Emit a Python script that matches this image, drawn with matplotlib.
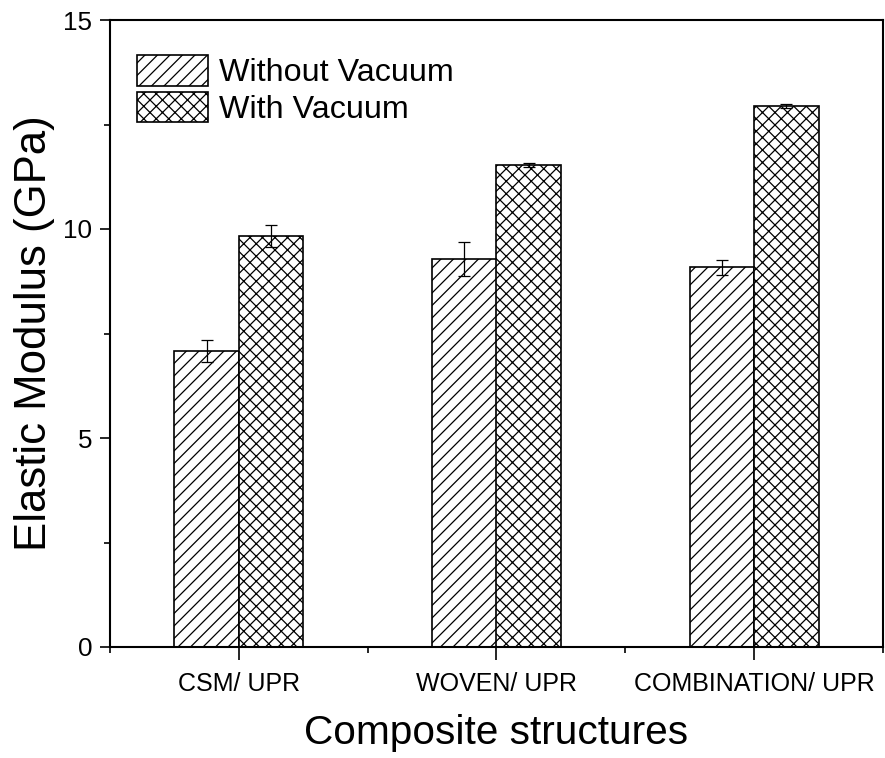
import numpy as np
import matplotlib
matplotlib.use('Agg')
from matplotlib import pyplot as plt
from matplotlib.ticker import MultipleLocator, FixedLocator

# Daten
categories = ['CSM/ UPR', 'WOVEN/ UPR', 'COMBINATION/ UPR']
without_vacuum = [7.08, 9.28, 9.09]
without_err = [0.26, 0.40, 0.18]
with_vacuum = [9.83, 11.53, 12.94]
with_err = [0.27, 0.05, 0.04]

plt.rcParams['font.family'] = ['Liberation Sans', 'DejaVu Sans']
plt.rcParams['hatch.linewidth'] = 0.6
plt.rcParams['hatch.color'] = '#222222'

fig = plt.figure(figsize=(885 / 150, 758 / 150), dpi=150)
ax = fig.add_axes([110 / 885, 1 - 647 / 758, 773 / 885, 627 / 758])

x = np.arange(1, len(categories) + 1)
w = 0.25
ax.bar(x - w / 2, without_vacuum, w, yerr=without_err, color='white', edgecolor='black',
       linewidth=0.8, hatch='////', label='Without Vacuum',
       error_kw=dict(ecolor='black', elinewidth=0.6, capsize=2.9, capthick=0.6))
ax.bar(x + w / 2, with_vacuum, w, yerr=with_err, color='white', edgecolor='black',
       linewidth=0.8, hatch='xxxx', label='With Vacuum',
       error_kw=dict(ecolor='black', elinewidth=0.6, capsize=2.9, capthick=0.6))

ax.set_xlim(0.5, 3.5)
ax.set_ylim(0, 15)
ax.set_xticks(x)
ax.set_xticklabels(categories, fontsize=12)
ax.xaxis.set_minor_locator(FixedLocator([0.5, 1.5, 2.5, 3.5]))
ax.yaxis.set_major_locator(MultipleLocator(5))
ax.yaxis.set_minor_locator(MultipleLocator(2.5))
ax.tick_params(axis='y', which='major', labelsize=12.5, length=5, width=0.8, direction='out')
ax.tick_params(axis='y', which='minor', length=3, width=0.8, direction='out')
ax.tick_params(axis='x', which='major', length=6, width=0.8, direction='out', pad=6)
ax.tick_params(axis='x', which='minor', length=3, width=0.8, direction='out')
for s in ax.spines.values():
    s.set_linewidth(1.0)

ax.set_xlabel('Composite structures', fontsize=19.5, labelpad=8.5)
ax.set_ylabel('Elastic Modulus (GPa)', fontsize=21, labelpad=4)

ax.legend(loc='upper left', bbox_to_anchor=(0.035, 0.944), frameon=False, fontsize=15.5,
          borderpad=0, borderaxespad=0, handlelength=2.2, handleheight=1.08,
          labelspacing=0.1, handletextpad=0.35)

plt.savefig('out.png', dpi=150)
